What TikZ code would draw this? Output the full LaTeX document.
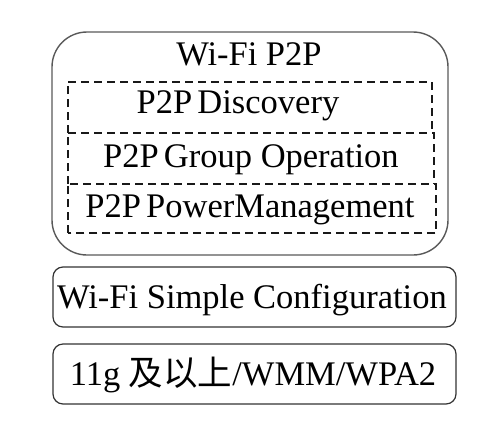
\documentclass[tikz,border=0pt]{standalone}
\usepackage{fontspec}
\setmainfont{Liberation Serif}
\newfontfamily\cjk{Noto Sans CJK SC}
\begin{document}
\begin{tikzpicture}[x=1pt,y=-1pt,
  outerbox/.style={draw=black!65,line width=1.4pt,rounded corners=35pt,minimum width=396pt,minimum height=223pt,inner sep=0pt},
  dashbox/.style={minimum height=51pt,inner sep=0pt},
  dl/.style={draw=black!90,line width=2.2pt,dash pattern=on 8pt off 5pt},
  layerbox/.style={draw=black!80,line width=1.2pt,rounded corners=10pt,minimum width=403pt,minimum height=60pt,inner sep=0pt},
  lbl/.style={anchor=base,inner sep=0pt,font=\fontsize{34.5}{38}\selectfont}]
\useasboundingbox (0,0) rectangle (484,429);
\node[outerbox] (outer) at (250,143.5) {};
\node[dashbox,minimum width=364pt] (disc) at (250,107.5) {};
\node[dashbox,minimum width=366pt] (group) at (251,158.5) {};
\node[dashbox,minimum width=368pt,minimum height=49pt] (power) at (252,208.5) {};
\draw[dl] (disc.south west) -- (disc.north west) -- (disc.north east) -- (disc.south east);
\draw[dl] (group.south west) -- (group.north west) -- (group.north east) -- (group.south east);
\draw[dl] (power.south west) -- (power.north west) -- (power.north east) -- (power.south east) -- cycle;
\node[layerbox] (wsc) at (254.5,297) {};
\node[layerbox] (base) at (254.5,374) {};
\node[lbl] (title) at (249,65) {Wi-Fi P2P};
\node[lbl] (tdisc) at (238,113) {P2P\hspace{0.15em}Discovery};
\node[lbl] (tgroup) at (251,167) {P2P\hspace{0.15em}Group Operation};
\node[lbl] (tpower) at (250,217) {P2P\hspace{0.15em}PowerManagement};
\node[lbl] (twsc) at (252,308) {Wi-Fi Simple Configuration};
\node[lbl] (tbase) at (253,385) {11g {\cjk 及以上}/WMM/WPA2};
\end{tikzpicture}
\end{document}
